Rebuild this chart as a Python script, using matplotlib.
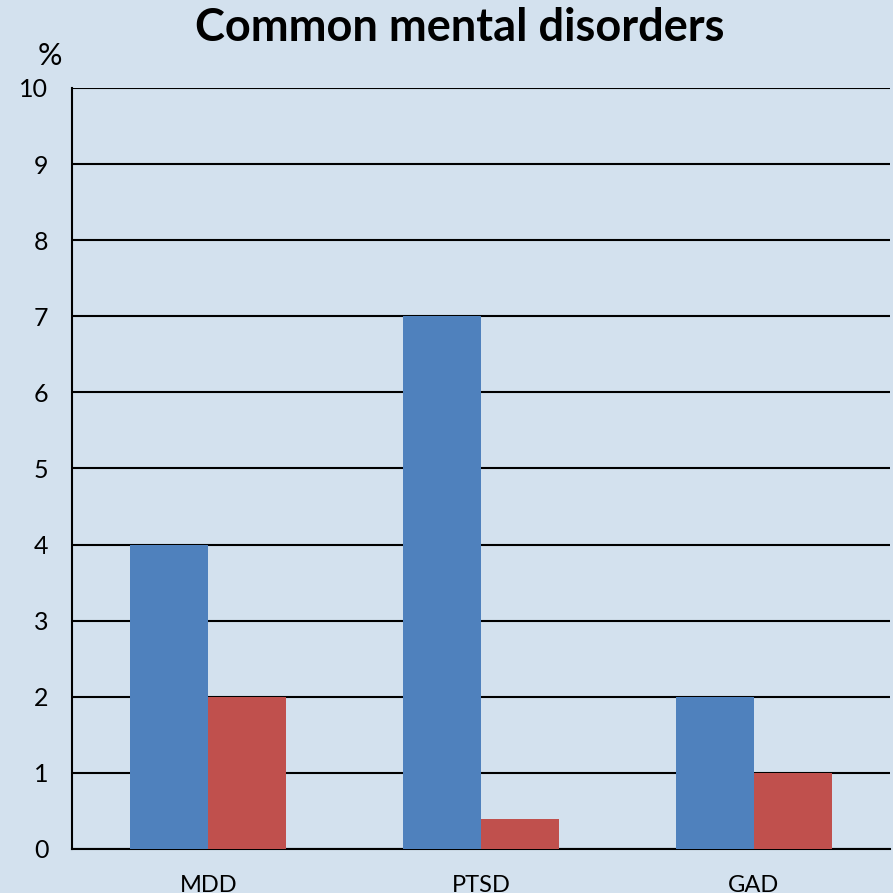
import numpy as np
import matplotlib.pyplot as plt

plt.rcParams['font.family'] = ['Lato', 'DejaVu Sans']

categories = ['MDD', 'PTSD', 'GAD']
series_a = [4, 7, 2]
series_b = [2, 0.4, 1]
yticks = list(range(0, 11))

bg = '#D3E1EE'
blue = '#4F81BD'
red = '#C0504D'

fig = plt.figure(figsize=(8.93, 8.93), dpi=100)
fig.patch.set_facecolor(bg)
ax = fig.add_axes([72 / 893, 44 / 893, 818 / 893, 761 / 893])
ax.set_facecolor(bg)

x = np.arange(len(categories))
w = 0.286
ax.bar(x - w / 2, series_a, w, color=blue, zorder=3)
ax.bar(x + w / 2, series_b, w, color=red, zorder=3)

ax.set_xlim(-0.5, len(categories) - 0.5)
ax.set_ylim(0, 10)
ax.set_yticks(yticks)
ax.set_xticks(x)
ax.set_xticklabels(categories, fontsize=17)
ax.tick_params(axis='y', length=0, pad=17, labelsize=18)
ax.tick_params(axis='x', length=0, pad=19)
ax.yaxis.grid(True, color='black', linewidth=1.5, zorder=0)
ax.set_axisbelow(True)

for s in ['top', 'right']:
    ax.spines[s].set_visible(False)
ax.spines['left'].set_linewidth(1.5)
ax.spines['bottom'].set_linewidth(1.5)

fig.text(50 / 893, 1 - 56 / 893, '%', fontsize=22, ha='center', va='center')
fig.text(460 / 893, 1 - 28 / 893, 'Common mental disorders', fontsize=32.5,
         fontweight='bold', ha='center', va='center')

plt.savefig('out.png', dpi=100, facecolor=bg)
